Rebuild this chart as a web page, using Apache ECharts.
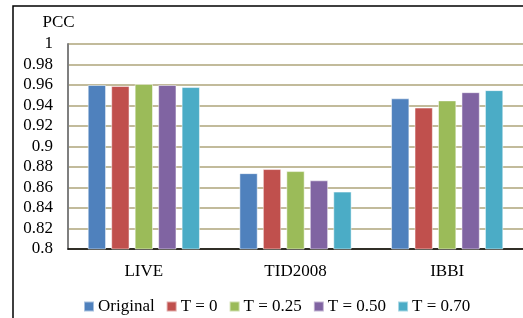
<!DOCTYPE html>
<html>
<head>
<meta charset="utf-8">
<script src="https://cdn.jsdelivr.net/npm/echarts@6/dist/echarts.min.js"></script>
<style>
  html, body { margin: 0; padding: 0; background: #fff; }
  #chart { width: 523px; height: 318px; }
</style>
</head>
<body>
<div id="chart"></div>
<script>
// data
const datasets = ['LIVE', 'TID2008', 'IBBI'];
const methodNames = ['Original', 'T = 0', 'T = 0.25', 'T = 0.50', 'T = 0.70'];
const original = [0.960, 0.874, 0.947];
const t000 = [0.959, 0.878, 0.938];
const t025 = [0.961, 0.876, 0.945];
const t050 = [0.960, 0.867, 0.953];
const t070 = [0.958, 0.856, 0.955];

const values = [original, t000, t025, t050, t070];
const colors = ['#4f81bd', '#c0504d', '#9bbb59', '#8064a2', '#4bacc6'];
const font = '"Liberation Serif", "DejaVu Serif", serif';

const chart = echarts.init(document.getElementById('chart'));

chart.setOption({
  backgroundColor: '#fff',
  animation: false,
  textStyle: { fontFamily: font },
  graphic: [
    {
      type: 'rect',
      shape: { x: 13, y: 6, width: 600, height: 400 },
      style: { fill: 'none', stroke: '#000', lineWidth: 1.5 },
      silent: true
    },
    {
      // axis title
      type: 'text',
      x: 58.5,
      y: 23,
      style: { text: 'PCC', font: '17px ' + font, fill: '#000', align: 'center', verticalAlign: 'middle' },
      silent: true
    }
  ],
  grid: { left: 68, top: 44, right: -2, bottom: 69 },
  legend: {
    left: 78,
    top: 293,
    itemWidth: 10,
    itemHeight: 10,
    itemGap: 11,
    icon: 'rect',
    textStyle: { fontFamily: font, fontSize: 17, color: '#000', padding: [0, 0, 0, -1] },
    data: methodNames
  },
  xAxis: {
    type: 'category',
    data: datasets,
    axisLine: { lineStyle: { color: '#000', width: 1.5 } },
    axisTick: { show: false },
    axisLabel: { fontFamily: font, fontSize: 17, color: '#000', margin: 14 }
  },
  yAxis: {
    type: 'value',
    min: 0.8,
    max: 1,
    interval: 0.02,
    axisLine: { show: true, lineStyle: { color: '#7f7f7f', width: 2 } },
    axisTick: { show: false },
    axisLabel: { fontFamily: font, fontSize: 17, color: '#000', margin: 15 },
    splitLine: { lineStyle: { color: '#aea47a', width: 1.5 } }
  },
  series: methodNames.map((name, i) => ({
    name,
    type: 'bar',
    data: values[i],
    barGap: '28%',
    barCategoryGap: '26%',
    itemStyle: { color: colors[i], borderColor: 'rgba(255,255,255,0.5)', borderWidth: 1 }
  }))
});
</script>
</body>
</html>
